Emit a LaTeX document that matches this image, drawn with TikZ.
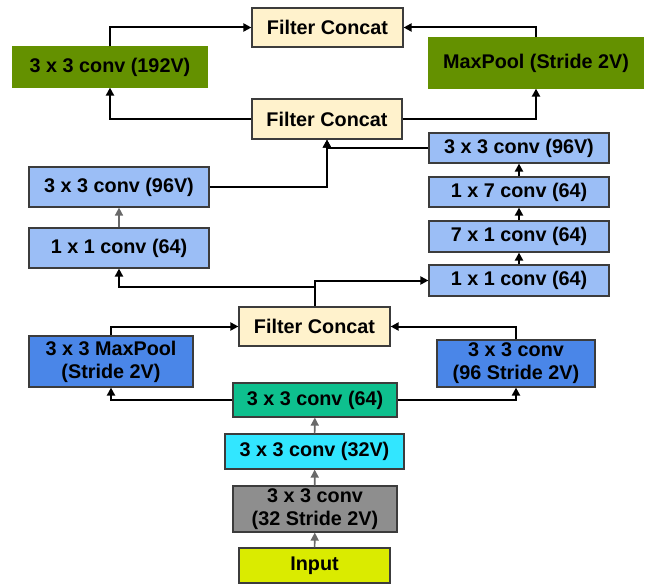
\documentclass[tikz,border=0pt]{standalone}
\usepackage{fontspec}
\setmainfont{Liberation Sans}
\usetikzlibrary{arrows.meta}

\definecolor{concat}{RGB}{255,242,204}
\definecolor{olive}{RGB}{100,145,0}
\definecolor{paleblue}{RGB}{155,190,246}
\definecolor{midblue}{RGB}{74,134,232}
\definecolor{teal}{RGB}{14,192,142}
\definecolor{cyanbox}{RGB}{50,230,255}
\definecolor{greybox}{RGB}{142,142,142}
\definecolor{lime}{RGB}{218,235,0}
\definecolor{edge}{RGB}{60,60,60}
\definecolor{greyline}{RGB}{105,105,105}

\tikzset{
  block/.style={draw=edge, line width=1.2pt, inner sep=0pt, align=center,
    font=\fontsize{19.8}{23}\selectfont\bfseries, text=black},
  link/.style={line width=2pt, black, -{Triangle[length=8pt,width=8pt]}},
  glink/.style={line width=1.6pt, greyline, -{Triangle[length=8pt,width=8pt]}}
}

\begin{document}
\begin{tikzpicture}[x=1pt,y=-1pt]
\useasboundingbox (0,0) rectangle (647,583);

% concatenation stages
\node[block, fill=concat, minimum width=151pt, minimum height=39pt] (fcTop) at (327.5,27.5) {Filter Concat};
\node[block, fill=concat, minimum width=150pt, minimum height=40pt] (fcMid) at (327,119) {Filter Concat};
\node[block, fill=concat, minimum width=151pt, minimum height=39pt] (fcLow) at (314.5,326.5) {Filter Concat};

% top branches
\node[block, fill=olive, draw=olive, minimum width=194pt, minimum height=40pt] (conv192) at (110,67) {3 x 3 conv (192V)};
\node[block, fill=olive, draw=olive, minimum width=214pt, minimum height=50pt] (maxTop) at (536,63) {MaxPool (Stride 2V)};

% right 1x7 / 7x1 branch
\node[block, fill=paleblue, minimum width=180pt, minimum height=30pt] (r96) at (519,148) {3 x 3 conv (96V)};
\node[block, fill=paleblue, minimum width=180pt, minimum height=30pt] (r17) at (519,192) {1 x 7 conv (64)};
\node[block, fill=paleblue, minimum width=180pt, minimum height=31pt] (r71) at (519,236.5) {7 x 1 conv (64)};
\node[block, fill=paleblue, minimum width=180pt, minimum height=31pt] (r11) at (519,280.5) {1 x 1 conv (64)};

% left branch
\node[block, fill=paleblue, minimum width=180pt, minimum height=40pt] (l96) at (119,187) {3 x 3 conv (96V)};
\node[block, fill=paleblue, minimum width=180pt, minimum height=40pt] (l11) at (119,248) {1 x 1 conv (64)};

% lower split
\node[block, fill=midblue, minimum width=164pt, minimum height=51pt] (maxLow) at (111,361.5) {3 x 3 MaxPool\\(Stride 2V)};
\node[block, fill=midblue, minimum width=158pt, minimum height=47pt] (convR96) at (516,363.5) {3 x 3 conv\\(96 Stride 2V)};

% stem
\node[block, fill=teal, minimum width=164pt, minimum height=34pt] (c64) at (315,400) {3 x 3 conv (64)};
\node[block, fill=cyanbox, minimum width=179pt, minimum height=35pt] (c32) at (314.5,451.5) {3 x 3 conv (32V)};
\node[block, fill=greybox, minimum width=164pt, minimum height=46pt] (c32s) at (315,509) {3 x 3 conv\\(32 Stride 2V)};
\node[block, fill=lime, minimum width=151pt, minimum height=35pt] (input) at (314.5,565.5) {Input};

% stem connectors
\draw[glink] (input) -- (c32s);
\draw[glink] (c32s) -- (c32);
\draw[glink] (c32) -- (c64);

% lower split connectors
\draw[link] (c64.west) -| (maxLow.south);
\draw[link] (c64.east) -| (convR96.south);
\draw[link] (maxLow.north) |- (fcLow.west);
\draw[link] (convR96.north) |- (fcLow.east);

% from lower concat to the two middle branches
\coordinate (split) at (fcLow.north |- 0,287);
\draw[link] (fcLow.north) |- (r11.west);
\draw[link] (split) -| (l11.south);

% right branch
\draw[link] (r11) -- (r71);
\draw[link] (r71) -- (r17);
\draw[link] (r17) -- (r96);
\draw[link] (r96.west) -| (fcMid.south);

% left branch
\draw[glink] (l11) -- (l96);
\draw[link] (l96.east) -| (fcMid.south);

% top connectors
\draw[link] (fcMid.west) -| (conv192.south);
\draw[link] (fcMid.east) -| (maxTop.south);
\draw[link] (conv192.north) |- (fcTop.west);
\draw[link] (maxTop.north) |- (fcTop.east);
\end{tikzpicture}
\end{document}
